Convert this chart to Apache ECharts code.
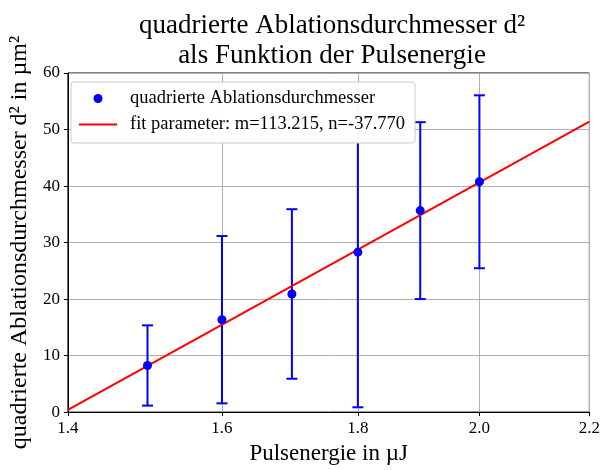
<!DOCTYPE html>
<html><head><meta charset="utf-8">
<script src="https://cdn.jsdelivr.net/npm/echarts@6/dist/echarts.min.js"></script>
<style>html,body{margin:0;padding:0;background:#fff}#c{width:603px;height:470px}</style>
</head><body><div id="c"></div>
<script>
const energies = [1.5, 1.6, 1.7, 1.8, 1.9, 2.0];
const d2 = [8.25, 16.35, 20.9, 28.3, 35.65, 40.75];
const d2err = [7.1, 14.8, 15.0, 27.45, 15.65, 15.3];
const fitX = [1.4, 2.2];
const fitY = [0.4, 51.4];
const xTicks = [1.4, 1.6, 1.8, 2.0, 2.2];
const yTicks = [0, 10, 20, 30, 40, 50, 60];
const seriesNames = ['quadrierte Ablationsdurchmesser', 'fit parameter: m=113.215, n=-37.770'];

const FONT = 'Liberation Serif';
const L = Math.log;
const chart = echarts.init(document.getElementById('c'));
const pts = energies.map((e, i) => [L(e), d2[i]]);
const errData = energies.map((e, i) => [L(e), d2[i] - d2err[i], d2[i] + d2err[i]]);
chart.setOption({
  animation: false,
  textStyle: {fontFamily: FONT, color: '#000'},
  title: {
    text: 'quadrierte Ablationsdurchmesser d²\nals Funktion der Pulsenergie',
    left: 327, textAlign: 'center', top: 6,
    textStyle: {fontFamily: FONT, fontWeight: 'normal', fontSize: 27, lineHeight: 30, color: '#000'}
  },
  grid: {left: 62, right: 11, top: 73, bottom: 51, show: true, borderColor: '#000', borderWidth: 1, backgroundColor: 'transparent', z: 0},
  legend: {
    left: 71, top: 82, orient: 'vertical', itemWidth: 38, itemHeight: 9, itemGap: 7, z: 10,
    backgroundColor: 'rgba(255,255,255,0.97)', borderColor: '#cccccc', borderWidth: 1, borderRadius: 3,
    padding: [7, 10, 9, 8],
    textStyle: {fontFamily: FONT, fontSize: 18.5, color: '#000', padding: [0, 0, 0, 8]},
    data: [
      {name: seriesNames[0], icon: 'circle'},
      {name: seriesNames[1], icon: 'path://M0,0H38V2H0Z'}
    ]
  },
  xAxis: {
    type: 'value', min: L(xTicks[0]), max: L(xTicks[xTicks.length - 1]),
    name: 'Pulsenergie in µJ', nameLocation: 'middle', nameGap: 28,
    nameTextStyle: {fontFamily: FONT, fontSize: 23, color: '#000'},
    axisLine: {lineStyle: {color: '#000', width: 1}},
    axisTick: {show: true, length: 4, lineStyle: {color: '#000'}, customValues: xTicks.map(L)},
    axisLabel: {customValues: xTicks.map(L), formatter: v => Math.exp(v).toFixed(1), fontFamily: FONT, fontSize: 17, color: '#000', margin: 8},
    splitLine: {show: true, lineStyle: {color: '#b0b0b0', width: 1}}
  },
  yAxis: {
    type: 'value', min: yTicks[0], max: yTicks[yTicks.length - 1], interval: 10,
    name: 'quadrierte Ablationsdurchmesser d² in µm²', nameLocation: 'middle', nameGap: 31,
    nameTextStyle: {fontFamily: FONT, fontSize: 24, color: '#000'},
    axisLine: {show: true, lineStyle: {color: '#000', width: 1}},
    axisTick: {show: true, length: 4, lineStyle: {color: '#000'}},
    axisLabel: {fontFamily: FONT, fontSize: 17, color: '#000', margin: 8},
    splitLine: {show: true, lineStyle: {color: '#b0b0b0', width: 1}}
  },
  series: [
    {
      type: 'custom', name: 'err', data: errData, z: 2,
      renderItem: (params, api) => {
        const x = api.value(0);
        const lo = api.coord([x, api.value(1)]);
        const hi = api.coord([x, api.value(2)]);
        const hw = 5.5;
        const st = {stroke: '#0000ff', lineWidth: 2};
        return {type: 'group', children: [
          {type: 'line', shape: {x1: lo[0], y1: lo[1], x2: hi[0], y2: hi[1]}, style: st},
          {type: 'line', shape: {x1: lo[0] - hw, y1: lo[1], x2: lo[0] + hw, y2: lo[1]}, style: st},
          {type: 'line', shape: {x1: hi[0] - hw, y1: hi[1], x2: hi[0] + hw, y2: hi[1]}, style: st}
        ]};
      }
    },
    {
      type: 'line', name: seriesNames[1], data: fitX.map((x, i) => [L(x), fitY[i]]),
      showSymbol: false, symbol: 'none', z: 3,
      lineStyle: {color: '#ff0000', width: 2}, itemStyle: {color: '#ff0000'}
    },
    {
      type: 'scatter', name: seriesNames[0], data: pts, symbol: 'circle', symbolSize: 9, z: 4,
      itemStyle: {color: '#0000ff', opacity: 1}
    }
  ]
});
</script></body></html>
